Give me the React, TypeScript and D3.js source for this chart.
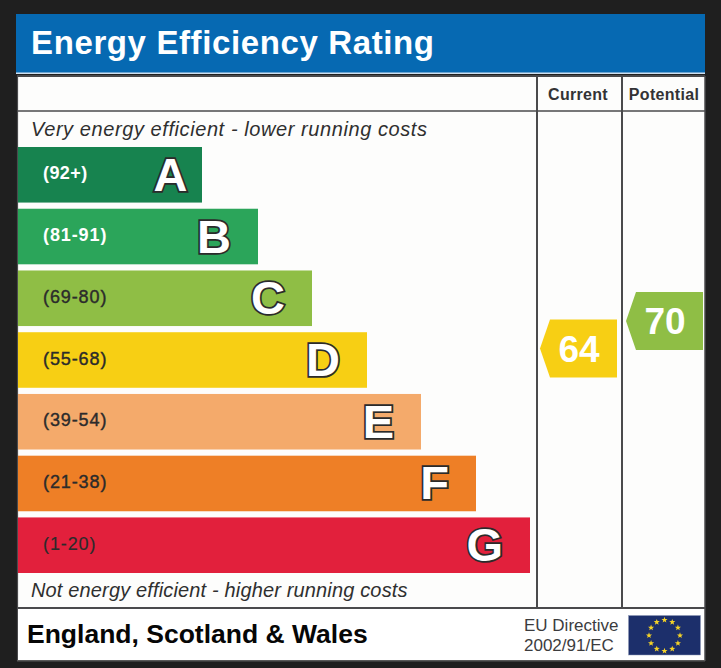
import * as d3 from "d3";

const letters = ["A", "B", "C", "D", "E", "F", "G"];
const ranges = ["(92+)", "(81-91)", "(69-80)", "(55-68)", "(39-54)", "(21-38)", "(1-20)"];
const barLengths = [184, 240, 294, 349, 403, 458, 512];
const barColors = ["#17834f", "#2ba55a", "#8fbe45", "#f7cf14", "#f4aa6b", "#ee7f26", "#e2203c"];
const rangeColors = ["#ffffff", "#ffffff", "#2b2b2b", "#2b2b2b", "#2b2b2b", "#2b2b2b", "#2b2b2b"];

const scores = [
  { label: "Current", value: 64, color: "#f7cf14" },
  { label: "Potential", value: 70, color: "#8fbe45" },
];

const font = "'Liberation Sans', Arial, sans-serif";

const W = 721;
const H = 668;

const x = d3.scaleLinear().domain([0, 512]).range([18, 530]);
const y = d3.scaleBand().domain(letters).range([147, 573]).paddingInner(0.1).paddingOuter(0);
const scoreY = d3.scaleLinear().domain([64, 70]).range([348.5, 321]);

const arrow = d3.line<[number, number]>();

function star(cx: number, cy: number, r: number) {
  const pts: [number, number][] = d3.range(10).map(i => {
    const a = (i * Math.PI) / 5 - Math.PI / 2;
    const rr = i % 2 === 0 ? r : r * 0.42;
    return [cx + rr * Math.cos(a), cy + rr * Math.sin(a)];
  });
  return arrow(pts) + "Z";
}

export default function App() {
  const flagCx = 664.5;
  const flagCy = 635.5;

  return (
    <svg width={W} height={H} style={{ position: "absolute", left: 0, top: 0, display: "block" }} fontFamily={font}>
      <rect x={0} y={0} width={W} height={H} fill="#1f1f1f" />
      <rect x={17} y={76} width={688} height={585} fill="#fdfdfc" />

      <rect x={16} y={14} width={689} height={59} fill="#0669b2" />
      <rect x={16} y={72.5} width={689} height={1.5} fill="#cfe0f0" />
      <text x={31} y={54} fontSize={33} fontWeight={700} fill="#ffffff" letterSpacing={0.62}>
        Energy Efficiency Rating
      </text>

      {/* grid lines */}
      <g stroke="#4a4a4c" fill="none">
        <line x1={17} x2={705} y1={76} y2={76} strokeWidth={2} />
        <line x1={17} x2={705} y1={111} y2={111} strokeWidth={1.6} />
        <line x1={17} x2={705} y1={608} y2={608} strokeWidth={2} />
        <line x1={17.5} x2={17.5} y1={76} y2={661} strokeWidth={1.2} />
        <line x1={537} x2={537} y1={76} y2={608} strokeWidth={2} />
        <line x1={622} x2={622} y1={76} y2={608} strokeWidth={2} />
        <line x1={705} x2={705} y1={76} y2={661} strokeWidth={1.5} />
      </g>

      <text x={578} y={100} textAnchor="middle" fontSize={16} fontWeight={700} fill="#333335" letterSpacing={0.3}>
        {scores[0].label}
      </text>
      <text x={664} y={100} textAnchor="middle" fontSize={16} fontWeight={700} fill="#333335" letterSpacing={0.3}>
        {scores[1].label}
      </text>

      <text x={31} y={136} fontSize={20} fontStyle="italic" fill="#2f2f2f" letterSpacing={0.58}>
        Very energy efficient - lower running costs
      </text>
      <text x={31} y={597} fontSize={20} fontStyle="italic" fill="#2f2f2f" letterSpacing={0.15}>
        Not energy efficient - higher running costs
      </text>

      {letters.map((l, i) => {
        const top = y(l)!;
        const bw = y.bandwidth();
        const right = x(barLengths[i]);
        return (
          <g key={l}>
            <rect x={x(0)} y={top} width={right - x(0)} height={bw} fill={barColors[i]} />
            <text
              x={43}
              y={top + bw / 2 + 4.5}
              fontSize={18}
              fontWeight={i < 2 ? 700 : 400}
              fill={rangeColors[i]}
              stroke={i < 2 ? "none" : rangeColors[i]}
              strokeWidth={i === 6 ? 0.15 : 0.4}
              letterSpacing={i === 0 ? 0.4 : 0.9}
            >
              {ranges[i]}
            </text>
            <text
              x={right - (i === 0 ? 14.5 : 27)}
              y={top + bw / 2 + 16}
              textAnchor="end"
              fontSize={47}
              fontWeight={700}
              fill="#ffffff"
              stroke="#2b2b2b"
              strokeWidth={3.6}
              style={{ paintOrder: "stroke" }}
            >
              {l}
            </text>
          </g>
        );
      })}

      {scores.map((s, i) => {
        const cy = scoreY(s.value);
        const left = i === 0 ? 540 : 626;
        const right = i === 0 ? 617 : 703;
        const pts: [number, number][] = [
          [left, cy],
          [left + 10, cy - 29],
          [right, cy - 29],
          [right, cy + 29],
          [left + 10, cy + 29],
        ];
        return (
          <g key={s.label}>
            <path d={arrow(pts) + "Z"} fill={s.color} />
            <text x={(left + right) / 2 + 0.5} y={cy + 13} textAnchor="middle" fontSize={37} fontWeight={700} fill="#ffffff">
              {s.value}
            </text>
          </g>
        );
      })}

      <rect x={18} y={609} width={686} height={51} fill="#ffffff" />
      <rect x={17} y={660} width={688} height={1.5} fill="#5a5a5a" />
      <text x={27} y={643} fontSize={26.5} fontWeight={700} fill="#060606">
        England, Scotland &amp; Wales
      </text>
      <text x={524} y={631} fontSize={17} fill="#3c3c3e">EU Directive</text>
      <text x={524} y={651} fontSize={17} fill="#3c3c3e">2002/91/EC</text>

      <rect x={628.5} y={615.5} width={72} height={39.5} fill="#1c2f6b" stroke="#8f9ab8" strokeWidth={0.5} />
      {d3.range(12).map(i => {
        const a = (i * Math.PI) / 6;
        return (
          <path
            key={i}
            d={star(flagCx + 15.5 * Math.sin(a), flagCy - 15.5 * Math.cos(a), 3.2)}
            fill="#f5d327"
          />
        );
      })}
    </svg>
  );
}
